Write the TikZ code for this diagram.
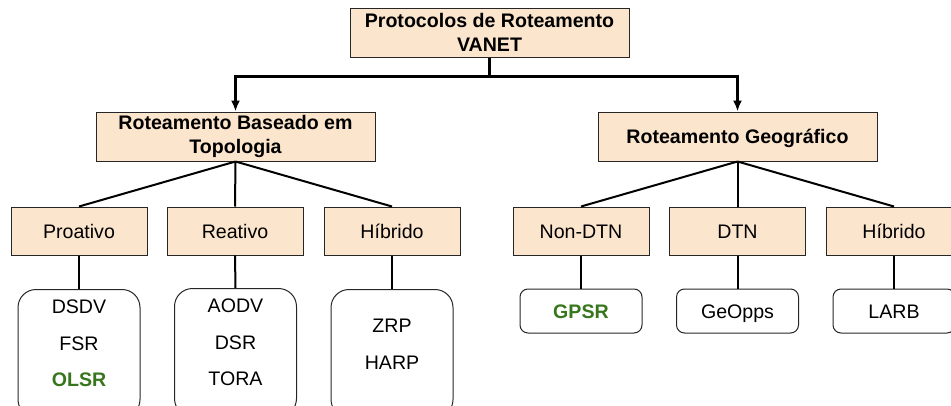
\documentclass[tikz,border=0pt]{standalone}
\usepackage{fontspec}
\setmainfont{Liberation Sans}
\usetikzlibrary{arrows.meta, positioning}
\definecolor{peach}{HTML}{FCE5CD}
\definecolor{leafgreen}{HTML}{38761D}
\tikzset{
  head/.style={draw=black!85, fill=peach, line width=1pt, minimum width=279pt, minimum height=49pt,
    inner sep=0pt, align=center, font=\bfseries\fontsize{19.6}{24}\selectfont},
  kind/.style={draw=black!85, fill=peach, line width=1pt, minimum width=136pt, minimum height=48pt,
    inner sep=0pt, text height=14pt, text depth=0pt, font=\fontsize{19.6}{24}\selectfont},
  tallleaf/.style={draw=black!85, line width=1pt, rounded corners=18pt, minimum width=122pt,
    minimum height=128pt, inner sep=0pt, anchor=north},
  shortleaf/.style={draw=black!85, line width=1pt, rounded corners=8pt, minimum width=122pt,
    minimum height=44pt, inner sep=0pt, text height=14pt, text depth=0pt,
    font=\fontsize{19.6}{24}\selectfont},
  names/.style={inner sep=0pt, anchor=north, align=center, font=\fontsize{19.6}{36.5}\selectfont},
  branch/.style={line width=2pt},
  fork/.style={line width=2.6pt, -{Latex[length=11pt,width=9pt]}}
}

\begin{document}
\begin{tikzpicture}[x=1pt, y=1pt]
  \path[use as bounding box, clip] (0,0) rectangle (951,-405);
  % top levels
  \node[head] (vanet) at (489.5,-32.5) {Protocolos de Roteamento\\VANET};
  \node[head] (topo) at (235.5,-136.5) {Roteamento Baseado em\\Topologia};
  \node[head, text height=14pt, text depth=0pt] (geo) at (737.5,-136.5) {Roteamento Geogr\'afico};
  \draw[line width=2.6pt] (vanet.south) -- ++(0,-19) coordinate (split);
  \draw[fork] (split) -| (topo.north);
  \draw[fork] (split) -| (geo.north);

  % kinds
  \node[kind] (pro) at (79,-231) {Proativo};
  \node[kind] (rea) at (235,-231) {Reativo};
  \node[kind] (hib) at (392,-231) {H\'ibrido};
  \node[kind] (ndtn) at (581,-231) {Non-DTN};
  \node[kind] (dtn) at (737.5,-231) {DTN};
  \node[kind] (hibg) at (894,-231) {H\'ibrido};
  \foreach \k in {pro,rea,hib}
    \draw[branch] (topo.south) -- (\k.north);
  \foreach \k in {ndtn,dtn,hibg}
    \draw[branch] (geo.south) -- (\k.north);

  % leaves
  \node[tallleaf] (proleaf) at (79,-289) {};
  \node[tallleaf] (realeaf) at (235.5,-288) {};
  \node[tallleaf] (hibleaf) at (392,-289) {};
  \node[names] (pronames) at (79,-300) {DSDV\\FSR\\\textcolor{leafgreen}{\textbf{OLSR}}};
  \node[names] (reanames) at (235.5,-299) {AODV\\DSR\\TORA};
  \node[names] (hibnames) at (392,-319) {ZRP\\HARP};
  \node[shortleaf] (gpsr) at (581,-311) {\textcolor{leafgreen}{\textbf{GPSR}}};
  \node[shortleaf] (geopps) at (737.5,-311) {GeOpps};
  \node[shortleaf] (larb) at (894,-311) {LARB};
  \draw[branch] (pro.south) -- (proleaf.north);
  \draw[branch] (rea.south) -- (realeaf.north);
  \draw[branch] (hib.south) -- (hibleaf.north);
  \draw[branch] (ndtn.south) -- (gpsr.north);
  \draw[branch] (dtn.south) -- (geopps.north);
  \draw[branch] (hibg.south) -- (larb.north);
\end{tikzpicture}
\end{document}
